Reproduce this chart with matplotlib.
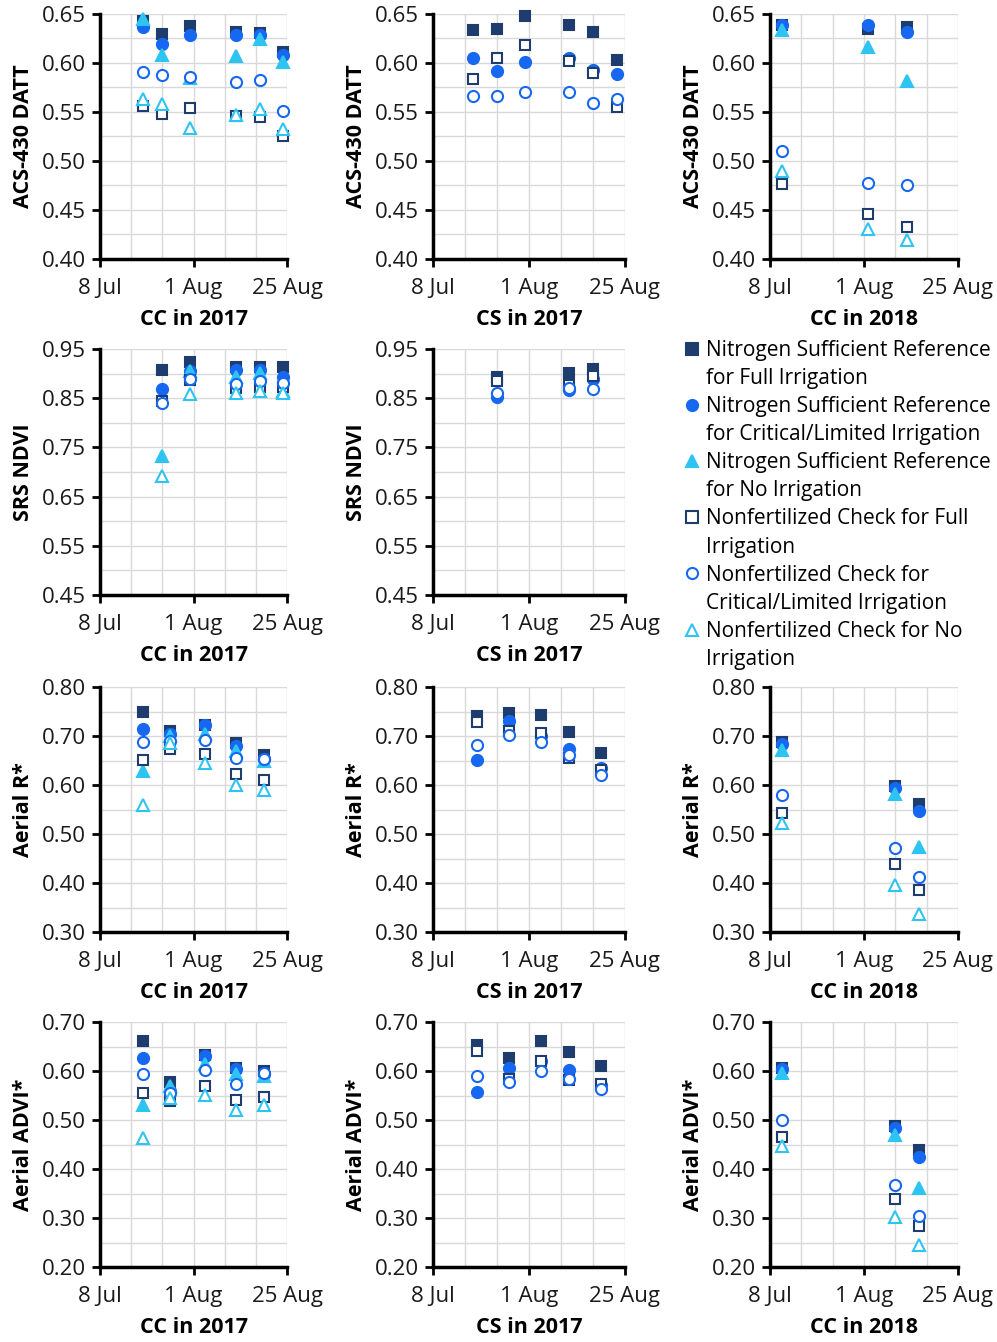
import numpy as np
import pandas as pd
import matplotlib
matplotlib.use('Agg')
import matplotlib.pyplot as plt
import matplotlib.dates as mdates
from matplotlib.lines import Line2D
from matplotlib.ticker import FixedLocator, FormatStrFormatter

plt.rcParams['font.family'] = ['Open Sans', 'DejaVu Sans']

NAVY = '#1f3c6e'
BLUE = '#1668f0'
CYAN = '#2ec4f2'

# ---- legend / series ----
series_keys = ['nsr_full', 'nsr_crit', 'nsr_no', 'chk_full', 'chk_crit', 'chk_no']
series_names = [
    ('Nitrogen Sufficient Reference', 'for Full Irrigation'),
    ('Nitrogen Sufficient Reference', 'for Critical/Limited Irrigation'),
    ('Nitrogen Sufficient Reference', 'for No Irrigation'),
    ('Nonfertilized Check for Full', 'Irrigation'),
    ('Nonfertilized Check for', 'Critical/Limited Irrigation'),
    ('Nonfertilized Check for No', 'Irrigation'),
]
series_style = {
    'nsr_full': ('s', NAVY, True),
    'nsr_crit': ('o', BLUE, True),
    'nsr_no': ('^', CYAN, True),
    'chk_full': ('s', NAVY, False),
    'chk_crit': ('o', BLUE, False),
    'chk_no': ('^', CYAN, False),
}

# ---- ACS-430 DATT ----
cc17_datt_dates = ['2017-07-19', '2017-07-24', '2017-07-31', '2017-08-12', '2017-08-18', '2017-08-24']
cc17_datt_nsr_full = [0.643, 0.630, 0.638, 0.632, 0.631, 0.611]
cc17_datt_nsr_crit = [0.637, 0.619, 0.629, 0.629, 0.629, 0.608]
cc17_datt_nsr_no = [0.645, 0.608, 0.585, 0.607, 0.624, 0.601]
cc17_datt_chk_full = [0.556, 0.548, 0.554, 0.546, 0.545, 0.526]
cc17_datt_chk_crit = [0.591, 0.588, 0.586, 0.581, 0.583, 0.551]
cc17_datt_chk_no = [0.563, 0.558, 0.534, 0.547, 0.553, 0.533]

cs17_datt_dates = ['2017-07-18', '2017-07-24', '2017-07-31', '2017-08-11', '2017-08-17', '2017-08-23']
cs17_datt_nsr_full = [0.634, 0.635, 0.648, 0.639, 0.632, 0.603]
cs17_datt_nsr_crit = [0.605, 0.592, 0.601, 0.605, 0.593, 0.589]
cs17_datt_chk_full = [0.584, 0.605, 0.618, 0.602, 0.590, 0.555]
cs17_datt_chk_crit = [0.566, 0.566, 0.570, 0.570, 0.559, 0.563]

cc18_datt_dates = ['2018-07-11', '2018-08-02', '2018-08-12']
cc18_datt_nsr_full = [0.639, 0.635, 0.637]
cc18_datt_nsr_crit = [0.639, 0.639, 0.632]
cc18_datt_nsr_no = [0.634, 0.616, 0.582]
cc18_datt_chk_full = [0.477, 0.446, 0.433]
cc18_datt_chk_crit = [0.510, 0.478, 0.476]
cc18_datt_chk_no = [0.490, 0.431, 0.419]

# ---- SRS NDVI ----
cc17_ndvi_dates = ['2017-07-24', '2017-07-31', '2017-08-12', '2017-08-18', '2017-08-24']
cc17_ndvi_nsr_full = [0.907, 0.923, 0.913, 0.913, 0.913]
cc17_ndvi_nsr_crit = [0.869, 0.905, 0.907, 0.907, 0.894]
cc17_ndvi_nsr_no = [0.733, 0.905, 0.894, 0.902, 0.864]
cc17_ndvi_chk_full = [0.845, 0.886, 0.871, 0.872, 0.873]
cc17_ndvi_chk_crit = [0.841, 0.889, 0.879, 0.884, 0.880]
cc17_ndvi_chk_no = [0.692, 0.859, 0.860, 0.864, 0.860]

cs17_ndvi_dates = ['2017-07-24', '2017-08-11', '2017-08-17']
cs17_ndvi_nsr_full = [0.894, 0.901, 0.909]
cs17_ndvi_nsr_crit = [0.852, 0.867, 0.889]
cs17_ndvi_chk_full = [0.884, 0.877, 0.895]
cs17_ndvi_chk_crit = [0.860, 0.871, 0.869]

# ---- Aerial R* ----
cc17_rstar_dates = ['2017-07-19', '2017-07-26', '2017-08-04', '2017-08-12', '2017-08-19']
cc17_rstar_nsr_full = [0.749, 0.710, 0.723, 0.685, 0.661]
cc17_rstar_nsr_crit = [0.715, 0.705, 0.722, 0.680, 0.654]
cc17_rstar_nsr_no = [0.628, 0.700, 0.705, 0.670, 0.650]
cc17_rstar_chk_full = [0.652, 0.674, 0.663, 0.623, 0.610]
cc17_rstar_chk_crit = [0.688, 0.690, 0.691, 0.655, 0.654]
cc17_rstar_chk_no = [0.559, 0.686, 0.644, 0.600, 0.590]

cs17_rstar_dates = ['2017-07-19', '2017-07-27', '2017-08-04', '2017-08-11', '2017-08-19']
cs17_rstar_nsr_full = [0.740, 0.747, 0.742, 0.708, 0.666]
cs17_rstar_nsr_crit = [0.651, 0.731, 0.700, 0.674, 0.634]
cs17_rstar_chk_full = [0.729, 0.710, 0.706, 0.655, 0.630]
cs17_rstar_chk_crit = [0.681, 0.703, 0.688, 0.661, 0.620]

cc18_rstar_dates = ['2018-07-11', '2018-08-09', '2018-08-15']
cc18_rstar_nsr_full = [0.687, 0.597, 0.561]
cc18_rstar_nsr_crit = [0.684, 0.593, 0.546]
cc18_rstar_nsr_no = [0.672, 0.581, 0.474]
cc18_rstar_chk_full = [0.542, 0.438, 0.385]
cc18_rstar_chk_crit = [0.580, 0.472, 0.413]
cc18_rstar_chk_no = [0.523, 0.395, 0.336]

# ---- Aerial ADVI* ----
cc17_advi_dates = cc17_rstar_dates
cc17_advi_nsr_full = [0.662, 0.577, 0.633, 0.607, 0.599]
cc17_advi_nsr_crit = [0.627, 0.560, 0.630, 0.604, 0.593]
cc17_advi_nsr_no = [0.530, 0.570, 0.614, 0.593, 0.589]
cc17_advi_chk_full = [0.555, 0.538, 0.569, 0.541, 0.547]
cc17_advi_chk_crit = [0.593, 0.555, 0.603, 0.573, 0.595]
cc17_advi_chk_no = [0.463, 0.544, 0.552, 0.521, 0.531]

cs17_advi_dates = cs17_rstar_dates
cs17_advi_nsr_full = [0.654, 0.627, 0.662, 0.639, 0.610]
cs17_advi_nsr_crit = [0.557, 0.606, 0.620, 0.603, 0.572]
cs17_advi_chk_full = [0.640, 0.584, 0.621, 0.582, 0.573]
cs17_advi_chk_crit = [0.589, 0.578, 0.601, 0.584, 0.564]

cc18_advi_dates = cc18_rstar_dates
cc18_advi_nsr_full = [0.607, 0.487, 0.439]
cc18_advi_nsr_crit = [0.605, 0.484, 0.424]
cc18_advi_nsr_no = [0.596, 0.470, 0.361]
cc18_advi_chk_full = [0.465, 0.339, 0.283]
cc18_advi_chk_crit = [0.501, 0.368, 0.305]
cc18_advi_chk_no = [0.446, 0.303, 0.244]

# panel table: (row, col, ylabel, xlabel, year, ylim, ymajor, dates, {series: values})
panels = [
    (0, 0, 'ACS-430 DATT', 'CC in 2017', 2017, (0.40, 0.65), 0.05, cc17_datt_dates,
     dict(nsr_full=cc17_datt_nsr_full, nsr_crit=cc17_datt_nsr_crit, nsr_no=cc17_datt_nsr_no,
          chk_full=cc17_datt_chk_full, chk_crit=cc17_datt_chk_crit, chk_no=cc17_datt_chk_no)),
    (0, 1, 'ACS-430 DATT', 'CS in 2017', 2017, (0.40, 0.65), 0.05, cs17_datt_dates,
     dict(nsr_full=cs17_datt_nsr_full, nsr_crit=cs17_datt_nsr_crit,
          chk_full=cs17_datt_chk_full, chk_crit=cs17_datt_chk_crit)),
    (0, 2, 'ACS-430 DATT', 'CC in 2018', 2018, (0.40, 0.65), 0.05, cc18_datt_dates,
     dict(nsr_full=cc18_datt_nsr_full, nsr_crit=cc18_datt_nsr_crit, nsr_no=cc18_datt_nsr_no,
          chk_full=cc18_datt_chk_full, chk_crit=cc18_datt_chk_crit, chk_no=cc18_datt_chk_no)),
    (1, 0, 'SRS NDVI', 'CC in 2017', 2017, (0.45, 0.95), 0.10, cc17_ndvi_dates,
     dict(nsr_full=cc17_ndvi_nsr_full, nsr_crit=cc17_ndvi_nsr_crit, nsr_no=cc17_ndvi_nsr_no,
          chk_full=cc17_ndvi_chk_full, chk_crit=cc17_ndvi_chk_crit, chk_no=cc17_ndvi_chk_no)),
    (1, 1, 'SRS NDVI', 'CS in 2017', 2017, (0.45, 0.95), 0.10, cs17_ndvi_dates,
     dict(nsr_full=cs17_ndvi_nsr_full, nsr_crit=cs17_ndvi_nsr_crit,
          chk_full=cs17_ndvi_chk_full, chk_crit=cs17_ndvi_chk_crit)),
    (2, 0, 'Aerial R*', 'CC in 2017', 2017, (0.30, 0.80), 0.10, cc17_rstar_dates,
     dict(nsr_full=cc17_rstar_nsr_full, nsr_crit=cc17_rstar_nsr_crit, nsr_no=cc17_rstar_nsr_no,
          chk_full=cc17_rstar_chk_full, chk_crit=cc17_rstar_chk_crit, chk_no=cc17_rstar_chk_no)),
    (2, 1, 'Aerial R*', 'CS in 2017', 2017, (0.30, 0.80), 0.10, cs17_rstar_dates,
     dict(nsr_full=cs17_rstar_nsr_full, nsr_crit=cs17_rstar_nsr_crit,
          chk_full=cs17_rstar_chk_full, chk_crit=cs17_rstar_chk_crit)),
    (2, 2, 'Aerial R*', 'CC in 2018', 2018, (0.30, 0.80), 0.10, cc18_rstar_dates,
     dict(nsr_full=cc18_rstar_nsr_full, nsr_crit=cc18_rstar_nsr_crit, nsr_no=cc18_rstar_nsr_no,
          chk_full=cc18_rstar_chk_full, chk_crit=cc18_rstar_chk_crit, chk_no=cc18_rstar_chk_no)),
    (3, 0, 'Aerial ADVI*', 'CC in 2017', 2017, (0.20, 0.70), 0.10, cc17_advi_dates,
     dict(nsr_full=cc17_advi_nsr_full, nsr_crit=cc17_advi_nsr_crit, nsr_no=cc17_advi_nsr_no,
          chk_full=cc17_advi_chk_full, chk_crit=cc17_advi_chk_crit, chk_no=cc17_advi_chk_no)),
    (3, 1, 'Aerial ADVI*', 'CS in 2017', 2017, (0.20, 0.70), 0.10, cs17_advi_dates,
     dict(nsr_full=cs17_advi_nsr_full, nsr_crit=cs17_advi_nsr_crit,
          chk_full=cs17_advi_chk_full, chk_crit=cs17_advi_chk_crit)),
    (3, 2, 'Aerial ADVI*', 'CC in 2018', 2018, (0.20, 0.70), 0.10, cc18_advi_dates,
     dict(nsr_full=cc18_advi_nsr_full, nsr_crit=cc18_advi_nsr_crit, nsr_no=cc18_advi_nsr_no,
          chk_full=cc18_advi_chk_full, chk_crit=cc18_advi_chk_crit, chk_no=cc18_advi_chk_no)),
]

W, H = 997, 1342
col_left = [100, 433, 770]
col_right = [287, 625, 958]
row_top = [14, 349, 687, 1022]
row_bot = [259, 595, 932, 1267]

fig = plt.figure(figsize=(W / 100, H / 100), dpi=100)


def draw_panel(row, col, ylabel, xlabel, year, ylim, ymajor, dates, data):
    x0, x1 = col_left[col], col_right[col]
    y0, y1 = row_top[row], row_bot[row]
    ax = fig.add_axes([x0 / W, 1 - y1 / H, (x1 - x0) / W, (y1 - y0) / H])
    x = pd.to_datetime(dates)
    for key in series_keys:
        if key not in data:
            continue
        marker, color, filled = series_style[key]
        ms = 7.5 if marker == 's' else 8
        ax.plot(x, data[key], linestyle='none', marker=marker, markersize=ms,
                markerfacecolor=color if filled else 'white',
                markeredgecolor=color, markeredgewidth=1.5, zorder=3, clip_on=False)

    start = pd.Timestamp(year, 7, 8)
    end = pd.Timestamp(year, 8, 25)
    ax.set_xlim(start, end)
    ax.set_ylim(*ylim)
    majors = [start, pd.Timestamp(year, 8, 1), end]
    ax.xaxis.set_major_locator(FixedLocator(mdates.date2num(majors)))
    ax.xaxis.set_minor_locator(FixedLocator(mdates.date2num(pd.date_range(start, end, freq='8D'))))
    ax.xaxis.set_major_formatter(mdates.DateFormatter('%-d %b'))
    ax.yaxis.set_major_locator(FixedLocator(np.arange(ylim[0], ylim[1] + 1e-6, ymajor)))
    ax.yaxis.set_minor_locator(FixedLocator(np.arange(ylim[0], ylim[1] + 1e-6, ymajor / 2)))
    ax.yaxis.set_major_formatter(FormatStrFormatter('%.2f'))

    ax.grid(True, which='both', color='#d9d9d9', linewidth=1.0, zorder=0)
    ax.set_axisbelow(True)
    for s in ['top', 'right']:
        ax.spines[s].set_visible(False)
    for s in ['left', 'bottom']:
        ax.spines[s].set_linewidth(2.5)
        ax.spines[s].set_color('black')
        ax.spines[s].set_zorder(4)
    ax.tick_params(which='major', direction='out', length=6, width=2, labelsize=16,
                   colors='black', labelcolor='#1a1a1a')
    ax.tick_params(axis='x', which='major', pad=8)
    ax.tick_params(axis='y', which='major', pad=4)
    ax.tick_params(which='minor', length=0)
    ax.set_ylabel(ylabel, fontsize=15.5, fontweight='bold', labelpad=6)
    ax.set_xlabel(xlabel, fontsize=15.5, fontweight='bold', labelpad=7)
    return ax


for p in panels:
    draw_panel(*p)

# legend in the empty slot (row 2, column 3)
handles, labels = [], []
for key, (first, second) in zip(series_keys, series_names):
    marker, color, filled = series_style[key]
    handles.append(Line2D([], [], linestyle='none', marker=marker, markersize=8,
                          markerfacecolor=color if filled else 'white',
                          markeredgecolor=color, markeredgewidth=1.5))
    labels.append(first)
    handles.append(Line2D([], [], linestyle='none'))
    labels.append(second)

fig.legend(handles, labels, loc='upper left', bbox_to_anchor=(686 / W, 1 - 340 / H),
           frameon=False, fontsize=15, handlelength=0.6, handletextpad=0.35,
           labelspacing=0.34, borderaxespad=0, borderpad=0)

fig.savefig('out.png', dpi=100)
